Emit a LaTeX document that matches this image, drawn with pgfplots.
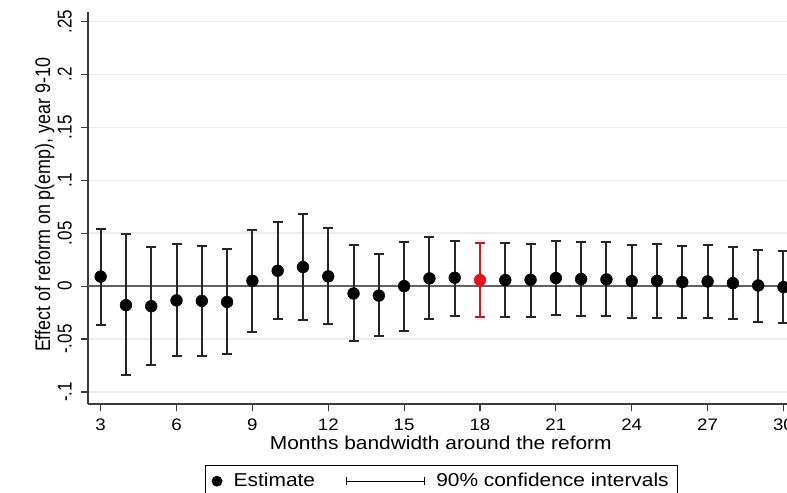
\documentclass[border=0pt]{standalone}
\usepackage{fontspec}
\setmainfont{Liberation Sans}
\newfontfamily\hfont[FakeStretch=1.12]{Liberation Sans}
\newfontfamily\vfont[FakeStretch=0.85]{Liberation Sans}
\usepackage{pgfplots}
\pgfplotsset{compat=1.18}
\usepackage{pgfplotstable}
\definecolor{stred}{HTML}{E8101A}
\definecolor{axgray}{HTML}{3A3A3A}
\definecolor{gridgray}{HTML}{EDEDED}

\pgfplotstableread{
x y lo hi
3 0.009 -0.037 0.054
4 -0.018 -0.084 0.049
5 -0.019 -0.075 0.037
6 -0.0135 -0.066 0.040
7 -0.014 -0.066 0.038
8 -0.015 -0.064 0.035
9 0.005 -0.043 0.053
10 0.0145 -0.031 0.061
11 0.018 -0.032 0.068
12 0.0092 -0.036 0.055
13 -0.007 -0.052 0.039
14 -0.009 -0.047 0.030
15 0.000 -0.042 0.0415
16 0.0073 -0.031 0.046
17 0.0079 -0.028 0.043
19 0.0057 -0.029 0.0405
20 0.006 -0.029 0.040
21 0.0076 -0.0275 0.043
22 0.0066 -0.0285 0.0415
23 0.0063 -0.028 0.0415
24 0.0047 -0.030 0.039
25 0.005 -0.030 0.0395
26 0.0038 -0.030 0.038
27 0.0044 -0.030 0.039
28 0.0028 -0.031 0.037
29 0.0006 -0.034 0.034
30 -0.001 -0.035 0.033
}\estdata

\pgfplotstableread{
x y lo hi
18 0.0057 -0.029 0.041
}\reddata

\begin{document}
\begin{tikzpicture}
\begin{axis}[
  at={(0pt,0pt)}, anchor=south west,
  scale only axis,
  width=524.25pt, height=294pt,
  xmin=2.5, xmax=30.14,
  ymin=-0.1114, ymax=0.259,
  axis x line*=bottom, axis y line*=left,
  axis line style={axgray, line width=0.9pt},
  tick style={axgray, line width=0.9pt},
  major tick length=5.5pt,
  tick align=outside,
  xtick={3,6,...,30},
  xticklabels={3,6,9,12,15,18,21,24,27,30},
  ytick={-0.1,-0.05,0,0.05,0.1,0.15,0.2,0.25},
  yticklabels={{-.1},{-.05},{0},{.05},{.1},{.15},{.2},{.25}},
  xticklabel style={font=\hfont\fontsize{12.5}{14}\selectfont, anchor=north, inner xsep=0pt, inner ysep=5.5pt},
  yticklabel style={font=\vfont\fontsize{15}{17}\selectfont, rotate=90, anchor=south, inner xsep=0pt, inner ysep=6.5pt},
  ymajorgrids,
  major grid style={gridgray, line width=1.1pt},
  xlabel={Months bandwidth around the reform},
  xlabel style={font=\hfont\fontsize{14}{16}\selectfont, at={(axis description cs:0.5047,-0.1173)}, anchor=base, inner sep=0pt},
  ylabel={Effect of reform on p(emp), year 9-10},
  ylabel style={font=\vfont\fontsize{15.8}{18}\selectfont, at={(axis description cs:-0.062,0.508)}, anchor=center, rotate=0},
  legend style={at={(axis description cs:0.5057,-0.1556)}, anchor=north,
    draw=black, line width=0.6pt, font=\hfont\fontsize{14}{16}\selectfont,
    inner xsep=4.5pt, inner ysep=4pt,
    legend columns=2,
    /tikz/every even column/.append style={column sep=21pt},
    /tikz/every odd column/.append style={column sep=6.5pt}},
]
\addplot[axgray!80, line width=1.1pt, forget plot] coordinates {(2.5,0) (30.14,0)};
\addplot[only marks, mark=*, mark size=4.4pt, black, forget plot,
  error bars/.cd, y dir=both, y explicit,
  error bar style={line width=1.5pt, black!85},
  error mark options={rotate=90, mark size=3.75pt, line width=1.5pt, black!85}]
  table[x=x, y=y, y error plus expr=\thisrow{hi}-\thisrow{y}, y error minus expr=\thisrow{y}-\thisrow{lo}] {\estdata};
\addplot[only marks, mark=*, mark size=4.4pt, stred, forget plot,
  error bars/.cd, y dir=both, y explicit,
  error bar style={line width=1.5pt, stred},
  error mark options={rotate=90, mark size=3.75pt, line width=1.5pt, stred}]
  table[x=x, y=y, y error plus expr=\thisrow{hi}-\thisrow{y}, y error minus expr=\thisrow{y}-\thisrow{lo}] {\reddata};
\addlegendimage{legend image code/.code={\fill[black] (0pt,0pt) circle (3.75pt);}}
\addlegendentry{Estimate}
\addlegendimage{legend image code/.code={
  \draw[black, line width=0.9pt] (0pt,0pt) -- (58.5pt,0pt);
  \draw[black, line width=0.9pt] (0pt,-3pt) -- (0pt,3pt);
  \draw[black, line width=0.9pt] (58.5pt,-3pt) -- (58.5pt,3pt);}}
\addlegendentry{90\% confidence intervals}
\end{axis}
\pgfresetboundingbox
\useasboundingbox (-66pt,-66pt) rectangle (524.25pt,303pt);
\end{tikzpicture}
\end{document}
